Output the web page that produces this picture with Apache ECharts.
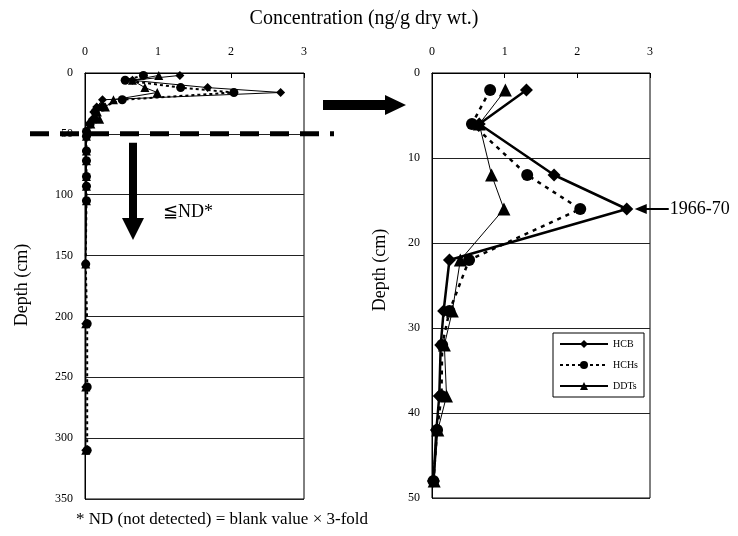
<!DOCTYPE html>
<html><head><meta charset="utf-8">
<script src="https://cdn.jsdelivr.net/npm/echarts@6/dist/echarts.min.js"></script>
<style>html,body{margin:0;padding:0;background:#fff}#c{width:738px;height:536px}</style>
</head><body><div id="c"></div>
<script>
// ---- data ----
const seriesNames = ['HCB', 'HCHs', 'DDTs'];
const depthTop = [2, 6, 12, 16, 22, 28, 32, 38, 42, 48];
const depthDeep = [52, 64, 72, 85, 93, 105, 157, 206, 258, 310];
const hcbTop = [1.30, 0.65, 1.68, 2.68, 0.24, 0.16, 0.12, 0.10, 0.06, 0.02];
const hchTop = [0.80, 0.55, 1.31, 2.04, 0.51, 0.24, 0.14, 0.13, 0.07, 0.02];
const ddtTop = [1.01, 0.65, 0.82, 0.99, 0.39, 0.28, 0.17, 0.20, 0.08, 0.03];
const hcbDeep = [0.02, 0.02, 0.02, 0.02, 0.02, 0.02, 0.01, 0.01, 0.01, 0.01];
const hchDeep = [0.02, 0.02, 0.02, 0.02, 0.02, 0.02, 0.01, 0.03, 0.03, 0.03];
const ddtDeep = [0.02, 0.02, 0.02, 0.02, 0.02, 0.02, 0.01, 0.01, 0.01, 0.01];
const peakLabel = '1966-70';
const peakDepth = 16;

const FONT = 'Liberation Serif, Times New Roman, serif';
const pairs = (xs, ys) => xs.map((v, i) => [v, ys[i]]);
const depthAll = depthTop.concat(depthDeep);

function xAx(gridIndex) {
  return {
    gridIndex, type: 'value', position: 'top', min: 0, max: 3, interval: 1,
    axisLine: { show: true, lineStyle: { color: '#000', width: 1 } },
    axisTick: { show: true, inside: true, length: 5, lineStyle: { color: '#000' } },
    axisLabel: { margin: 15, fontFamily: FONT, fontSize: 12, color: '#000' },
    splitLine: { show: false }
  };
}
function yAx(gridIndex, max, interval) {
  return {
    gridIndex, type: 'value', inverse: true, min: 0, max, interval,
    axisLine: { show: true, lineStyle: { color: '#000', width: 1 } },
    axisTick: { show: false },
    axisLabel: { margin: 12, fontFamily: FONT, fontSize: 12, color: '#000' },
    splitLine: { show: true, lineStyle: { color: '#222', width: 1 } }
  };
}
function ser(name, gi, data, symbol, size, lineStyle) {
  return {
    name, type: 'line', xAxisIndex: gi, yAxisIndex: gi, data,
    symbol, symbolSize: size, showSymbol: true,
    itemStyle: { color: '#000' },
    lineStyle: Object.assign({ color: '#000' }, lineStyle),
    z: 3
  };
}

const option = {
  animation: false,
  backgroundColor: '#fff',
  grid: [
    { left: 85, top: 73, width: 219, height: 426, show: true, borderColor: '#000', borderWidth: 1 },
    { left: 432, top: 73, width: 218, height: 425, show: true, borderColor: '#000', borderWidth: 1 }
  ],
  xAxis: [xAx(0), xAx(1)],
  yAxis: [yAx(0, 350, 50), yAx(1, 50, 10)],
  legend: {
    orient: 'vertical', left: 553, top: 333, data: seriesNames,
    itemWidth: 48, itemHeight: 10, itemGap: 11,
    borderColor: '#000', borderWidth: 1, padding: [6, 6, 6, 6],
    textStyle: { fontFamily: FONT, fontSize: 10, color: '#000' }
  },
  series: [
    ser('HCB', 0, pairs(hcbTop.concat(hcbDeep), depthAll), 'diamond', 9, { width: 1 }),
    ser('HCHs', 0, pairs(hchTop.concat(hchDeep), depthAll), 'circle', 9, { width: 2, type: [3, 3] }),
    ser('DDTs', 0, pairs(ddtTop.concat(ddtDeep), depthAll), 'triangle', 9, { width: 1 }),
    ser('HCB', 1, pairs(hcbTop, depthTop), 'diamond', 13, { width: 2.5 }),
    ser('HCHs', 1, pairs(hchTop, depthTop), 'circle', 12, { width: 2.5, type: [4, 5] }),
    ser('DDTs', 1, pairs(ddtTop, depthTop), 'triangle', 13, { width: 1 })
  ]
};

const chart = echarts.init(document.getElementById('c'), null, { renderer: 'canvas' });
chart.setOption(option);

// ---- annotations positioned through the axes ----
const y50 = chart.convertToPixel({ xAxisIndex: 0, yAxisIndex: 0 }, [0, 50])[1];
const peak = chart.convertToPixel({ xAxisIndex: 1, yAxisIndex: 1 }, [hcbTop[depthTop.indexOf(peakDepth)], peakDepth]);
const black = { fill: '#000' };
const txt = (x, y, text, size, extra) => Object.assign({
  type: 'text', x, y,
  style: { text, fontFamily: FONT, fontSize: size, fill: '#000', align: 'left', verticalAlign: 'middle' }
}, extra || {});

chart.setOption({
  graphic: [
    txt(364, 19, 'Concentration (ng/g dry wt.)', 20, { style: { text: 'Concentration (ng/g dry wt.)', fontFamily: FONT, fontSize: 20, fill: '#000', align: 'center', verticalAlign: 'middle' } }),
    { type: 'text', x: 22, y: 285, rotation: Math.PI / 2,
      style: { text: 'Depth (cm)', fontFamily: FONT, fontSize: 18, fill: '#000', align: 'center', verticalAlign: 'middle' } },
    { type: 'text', x: 380, y: 270, rotation: Math.PI / 2,
      style: { text: 'Depth (cm)', fontFamily: FONT, fontSize: 18, fill: '#000', align: 'center', verticalAlign: 'middle' } },
    // thick dashed line at 50 cm
    { type: 'line', z: 10, shape: { x1: 30, y1: y50, x2: 334, y2: y50 },
      style: { stroke: '#000', lineWidth: 5, lineDash: [19, 11] } },
    // big right arrow
    { type: 'polygon', z: 10, shape: { points: [[323, 100], [385, 100], [385, 95], [406, 105], [385, 115], [385, 110], [323, 110]] }, style: black },
    // down arrow
    { type: 'polygon', z: 10, shape: { points: [[129, y50 + 9], [137, y50 + 9], [137, 218], [144, 218], [133, 240], [122, 218], [129, 218]] }, style: black },
    txt(163, 212, '≦ND*', 18),
    // peak arrow
    { type: 'polygon', z: 10, shape: { points: [[peak[0] + 8, peak[1]], [peak[0] + 20, peak[1] - 5], [peak[0] + 20, peak[1] - 1], [peak[0] + 42, peak[1] - 1], [peak[0] + 42, peak[1] + 1], [peak[0] + 20, peak[1] + 1], [peak[0] + 20, peak[1] + 5]] }, style: black },
    txt(peak[0] + 43, peak[1], peakLabel, 18),
    txt(76, 520, '* ND (not detected) = blank value × 3-fold', 17)
  ]
});
</script></body></html>
